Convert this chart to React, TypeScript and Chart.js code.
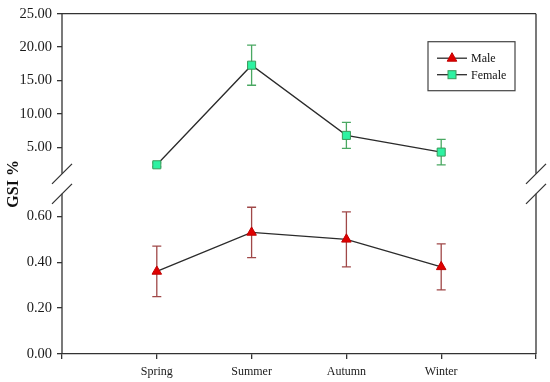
import React, { useEffect, useRef } from "react";
import { Chart, registerables } from "chart.js";

Chart.register(...registerables);

const seasons = ["Spring", "Summer", "Autumn", "Winter"];
const maleValues = [0.36, 0.53, 0.5, 0.38];
const maleErrors = [0.11, 0.11, 0.12, 0.1];
const femaleValues = [2.4, 17.3, 6.8, 4.3];
const femaleErrors = [0.3, 3.0, 1.95, 1.9];
const upperTicks = [5, 10, 15, 20, 25];
const lowerTicks = [0, 0.2, 0.4, 0.6];

const SERIF = "'Liberation Serif', 'Times New Roman', serif";
const AXIS_COLOR = "#333333";

const labels = ["", ...seasons, ""];
const pad = (arr: number[]) => [null, ...arr, null];

const decorPlugin = {
  id: "decor",
  beforeDatasetsDraw(chart: any) {
    const ctx = chart.ctx;
    const sets = [
      { idx: 0, errs: maleErrors, color: "#a04848" },
      { idx: 1, errs: femaleErrors, color: "#4aa862" },
    ];
    ctx.save();
    sets.forEach((s) => {
      const ds = chart.data.datasets[s.idx];
      const meta = chart.getDatasetMeta(s.idx);
      const yScale = chart.scales[ds.yAxisID];
      ctx.strokeStyle = s.color;
      ctx.lineWidth = 1.3;
      ds.data.forEach((v: number | null, j: number) => {
        if (v == null) return;
        const e = s.errs[j - 1];
        const x = meta.data[j].x;
        const yt = yScale.getPixelForValue(v + e);
        const yb = yScale.getPixelForValue(v - e);
        ctx.beginPath();
        ctx.moveTo(x, yt);
        ctx.lineTo(x, yb);
        ctx.moveTo(x - 4.5, yt);
        ctx.lineTo(x + 4.5, yt);
        ctx.moveTo(x - 4.5, yb);
        ctx.lineTo(x + 4.5, yb);
        ctx.stroke();
      });
    });
    ctx.restore();
  },
  afterDraw(chart: any) {
    const ctx = chart.ctx;
    const area = chart.chartArea;
    const hi = chart.scales.yHigh;
    const lo = chart.scales.yLow;
    const boundary = (hi.bottom + lo.top) / 2;
    const gap = 10;
    ctx.save();
    ctx.strokeStyle = AXIS_COLOR;
    ctx.lineWidth = 1.3;
    // top border
    ctx.beginPath();
    ctx.moveTo(area.left, area.top);
    ctx.lineTo(area.right, area.top);
    ctx.stroke();
    // left & right axis lines with break
    [area.left, area.right].forEach((x) => {
      ctx.beginPath();
      ctx.moveTo(x, area.top);
      ctx.lineTo(x, boundary - gap);
      ctx.moveTo(x, boundary + gap);
      ctx.lineTo(x, area.bottom);
      ctx.stroke();
      ctx.beginPath();
      ctx.moveTo(x - 10, boundary - gap + 10);
      ctx.lineTo(x + 10, boundary - gap - 10);
      ctx.moveTo(x - 10, boundary + gap + 10);
      ctx.lineTo(x + 10, boundary + gap - 10);
      ctx.stroke();
    });
    // y title
    ctx.save();
    ctx.translate(14, boundary);
    ctx.rotate(-Math.PI / 2);
    ctx.fillStyle = "#111";
    ctx.font = `bold 16px ${SERIF}`;
    ctx.textAlign = "center";
    ctx.textBaseline = "middle";
    ctx.fillText("GSI %", 0, 0);
    ctx.restore();
    // legend
    const bx = area.right - 108;
    const by = area.top + 28;
    const bw = 87;
    const bh = 49;
    ctx.lineWidth = 1.2;
    ctx.strokeStyle = "#444";
    ctx.strokeRect(bx, by, bw, bh);
    const entries = [
      { label: chart.data.datasets[0].label, y: by + 16.5, kind: "tri" },
      { label: chart.data.datasets[1].label, y: by + 33, kind: "rect" },
    ];
    entries.forEach((en) => {
      const lx0 = bx + 9;
      const lx1 = bx + 39;
      const cx = (lx0 + lx1) / 2;
      ctx.strokeStyle = "#2b2b2b";
      ctx.lineWidth = 1.3;
      ctx.beginPath();
      ctx.moveTo(lx0, en.y);
      ctx.lineTo(lx1, en.y);
      ctx.stroke();
      if (en.kind === "tri") {
        ctx.fillStyle = "#e00000";
        ctx.strokeStyle = "#c00000";
        ctx.lineWidth = 1;
        ctx.beginPath();
        ctx.moveTo(cx, en.y - 5.5);
        ctx.lineTo(cx + 4.8, en.y + 3);
        ctx.lineTo(cx - 4.8, en.y + 3);
        ctx.closePath();
        ctx.fill();
        ctx.stroke();
      } else {
        ctx.fillStyle = "#2ef2a2";
        ctx.strokeStyle = "#3a9a5a";
        ctx.lineWidth = 1;
        ctx.fillRect(cx - 4, en.y - 4, 8, 8);
        ctx.strokeRect(cx - 4, en.y - 4, 8, 8);
      }
      ctx.fillStyle = "#111";
      ctx.font = `12px ${SERIF}`;
      ctx.textAlign = "left";
      ctx.textBaseline = "middle";
      ctx.fillText(en.label, lx1 + 4, en.y + 1);
    });
    ctx.restore();
  },
};

const yGrid = {
  drawOnChartArea: false,
  drawTicks: true,
  tickLength: 5,
  color: AXIS_COLOR,
  lineWidth: 1.3,
};

export default function App() {
  const canvasRef = useRef<HTMLCanvasElement | null>(null);

  useEffect(() => {
    if (!canvasRef.current) return;
    const chart = new Chart(canvasRef.current, {
      type: "line",
      data: {
        labels,
        datasets: [
          {
            label: "Male",
            data: pad(maleValues),
            yAxisID: "yLow",
            borderColor: "#2b2b2b",
            borderWidth: 1.3,
            pointStyle: "triangle",
            pointRadius: 5.5,
            pointBackgroundColor: "#e00000",
            pointBorderColor: "#c00000",
            pointBorderWidth: 1,
            tension: 0,
          },
          {
            label: "Female",
            data: pad(femaleValues),
            yAxisID: "yHigh",
            borderColor: "#2b2b2b",
            borderWidth: 1.3,
            pointStyle: "rect",
            pointRadius: 5.7,
            pointBackgroundColor: "#2ef2a2",
            pointBorderColor: "#3a9a5a",
            pointBorderWidth: 1,
            tension: 0,
          },
        ],
      },
      options: {
        animation: false,
        responsive: true,
        maintainAspectRatio: false,
        layout: { padding: { top: 10, right: 14, left: 0, bottom: 0 } },
        plugins: {
          legend: { display: false },
          tooltip: { enabled: false },
        },
        scales: {
          x: {
            type: "category",
            offset: false,
            grid: {
              drawOnChartArea: false,
              drawTicks: true,
              tickLength: 5,
              color: AXIS_COLOR,
              lineWidth: 1.3,
            },
            border: { display: true, color: AXIS_COLOR, width: 1.3 },
            ticks: {
              color: "#1a1a1a",
              font: { family: SERIF, size: 12 },
              padding: 6,
              autoSkip: false,
              maxRotation: 0,
            },
            afterFit: (s: any) => {
              s.height = 28;
            },
          },
          yLow: {
            type: "linear",
            position: "left",
            stack: "gsi",
            stackWeight: 1,
            min: 0,
            max: 0.742,
            grid: yGrid,
            border: { display: false },
            ticks: {
              color: "#1a1a1a",
              font: { family: SERIF, size: 14.5 },
              padding: 5,
              callback: (v: any) => Number(v).toFixed(2),
            },
            afterBuildTicks: (s: any) => {
              s.ticks = lowerTicks.map((v) => ({ value: v }));
            },
            afterFit: (s: any) => {
              s.width = 62;
            },
          },
          yHigh: {
            type: "linear",
            position: "left",
            stack: "gsi",
            stackWeight: 1,
            min: -0.45,
            max: 25,
            grid: yGrid,
            border: { display: false },
            ticks: {
              color: "#1a1a1a",
              font: { family: SERIF, size: 14.5 },
              padding: 5,
              callback: (v: any) => Number(v).toFixed(2),
            },
            afterBuildTicks: (s: any) => {
              s.ticks = upperTicks.map((v) => ({ value: v }));
            },
            afterFit: (s: any) => {
              s.width = 62;
            },
          },
        },
      },
      plugins: [decorPlugin],
    } as any);
    return () => chart.destroy();
  }, []);

  return (
    <div
      style={{
        position: "fixed",
        left: 0,
        top: 0,
        width: 550,
        height: 382,
        background: "#fff",
      }}
    >
      <canvas ref={canvasRef} />
    </div>
  );
}
